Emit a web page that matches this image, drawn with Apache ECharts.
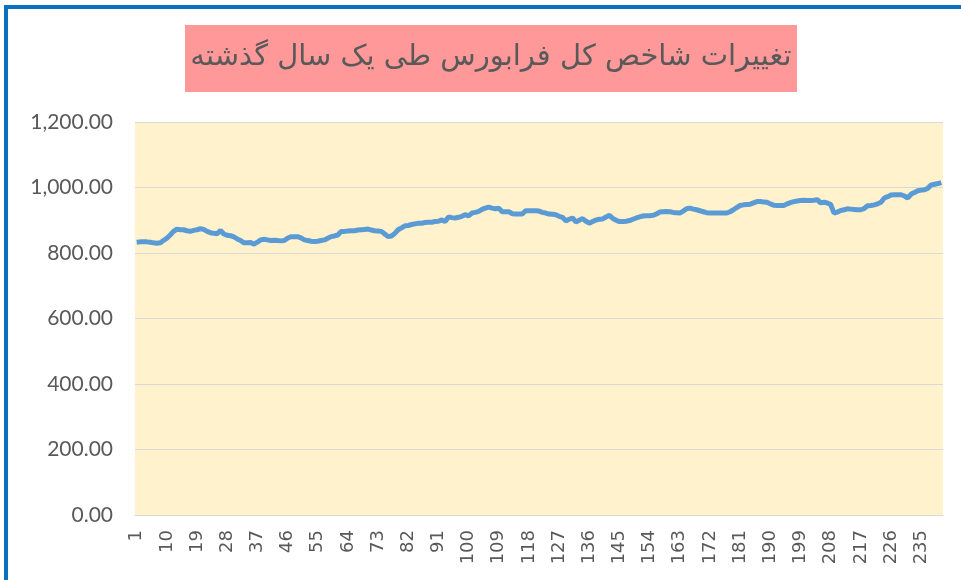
<!DOCTYPE html>
<html>
<head>
<meta charset="utf-8">
<script src="https://cdn.jsdelivr.net/npm/echarts@6/dist/echarts.min.js"></script>
<style>
html,body{margin:0;padding:0;background:#fff;}
#chart{width:961px;height:580px;}
</style>
</head>
<body>
<div id="chart"></div>
<script>
var titleText = 'تغییرات شاخص کل فرابورس طی یک سال گذشته';
var yTicks = [0, 200, 400, 600, 800, 1000, 1200];
var days = [];
for (var d = 1; d <= 241; d++) days.push(String(d));
var indexValues = [
833,834,834,834,833,831,830,831,838,845,
855,866,873,871,871,868,866,869,871,874,
872,866,862,860,859,869,858,854,853,849,
843,838,831,831,832,827,833,840,842,840,
838,839,838,837,838,845,850,850,850,846,
840,838,836,835,836,838,840,845,850,852,
855,866,866,867,868,868,870,871,872,873,
870,868,867,866,858,850,852,860,871,877,
883,884,887,889,891,891,893,894,894,896,
897,901,896,910,908,907,909,912,917,913,
922,924,927,933,937,940,937,935,937,926,
926,926,920,919,919,919,929,929,929,929,
928,924,922,919,918,917,912,909,898,903,
907,895,900,905,897,891,896,901,903,904,
910,915,906,900,896,896,897,899,903,907,
910,913,914,914,915,919,925,926,927,926,
924,923,922,928,935,937,934,932,929,926,
923,922,922,922,922,922,922,926,932,939,
945,947,948,949,953,957,957,956,955,950,
946,945,945,945,950,954,957,959,960,961,
960,960,961,963,953,955,953,948,922,925,
930,932,935,934,933,932,932,936,944,945,
947,950,955,968,972,977,978,978,978,974,
968,980,985,990,992,993,998,1008,1010,1012,
1015
];

var chart = echarts.init(document.getElementById('chart'));
chart.setOption({
  animation: false,
  backgroundColor: '#ffffff',
  graphic: [
    {type:'rect', left:4, top:5, shape:{width:957, height:4}, style:{fill:'#0A70C0'}, z:10},
    {type:'rect', left:4, top:5, shape:{width:4, height:575}, style:{fill:'#0A70C0'}, z:10},
    {type:'rect', left:185, top:25, shape:{width:612, height:67}, style:{fill:'#FF9999'}, z:-1}
  ],
  title: {
    text: titleText,
    left: 491,
    top: 43,
    textAlign: 'center',
    padding: 0,
    textStyle: {fontFamily: 'DejaVu Sans', fontSize: 29, fontWeight: 'normal', color: '#595959'}
  },
  grid: {
    left: 135, right: 18, top: 122, bottom: 65,
    show: true, backgroundColor: '#FFF2CC', borderWidth: 0
  },
  xAxis: {
    type: 'category',
    data: days,
    boundaryGap: true,
    axisLine: {lineStyle: {color: '#D9D9D9'}},
    axisTick: {show: false},
    axisLabel: {interval: 8, rotate: 90, color: '#595959', fontFamily: 'DejaVu Sans', fontSize: 18, margin: 15}
  },
  yAxis: {
    type: 'value',
    min: yTicks[0], max: yTicks[yTicks.length-1], interval: 200,
    axisLine: {show: false},
    axisTick: {show: false},
    splitLine: {lineStyle: {color: '#D9D9D9', width: 1}},
    axisLabel: {
      color: '#595959', fontFamily: 'Lato', fontSize: 21, margin: 22,
      formatter: function (v) { return v.toLocaleString('en-US', {minimumFractionDigits: 2, maximumFractionDigits: 2}); }
    }
  },
  series: [{
    type: 'line',
    data: indexValues,
    showSymbol: false,
    symbol: 'none',
    lineStyle: {color: '#5B9BD5', width: 5},
    itemStyle: {color: '#5B9BD5'}
  }]
});
</script>
</body>
</html>
